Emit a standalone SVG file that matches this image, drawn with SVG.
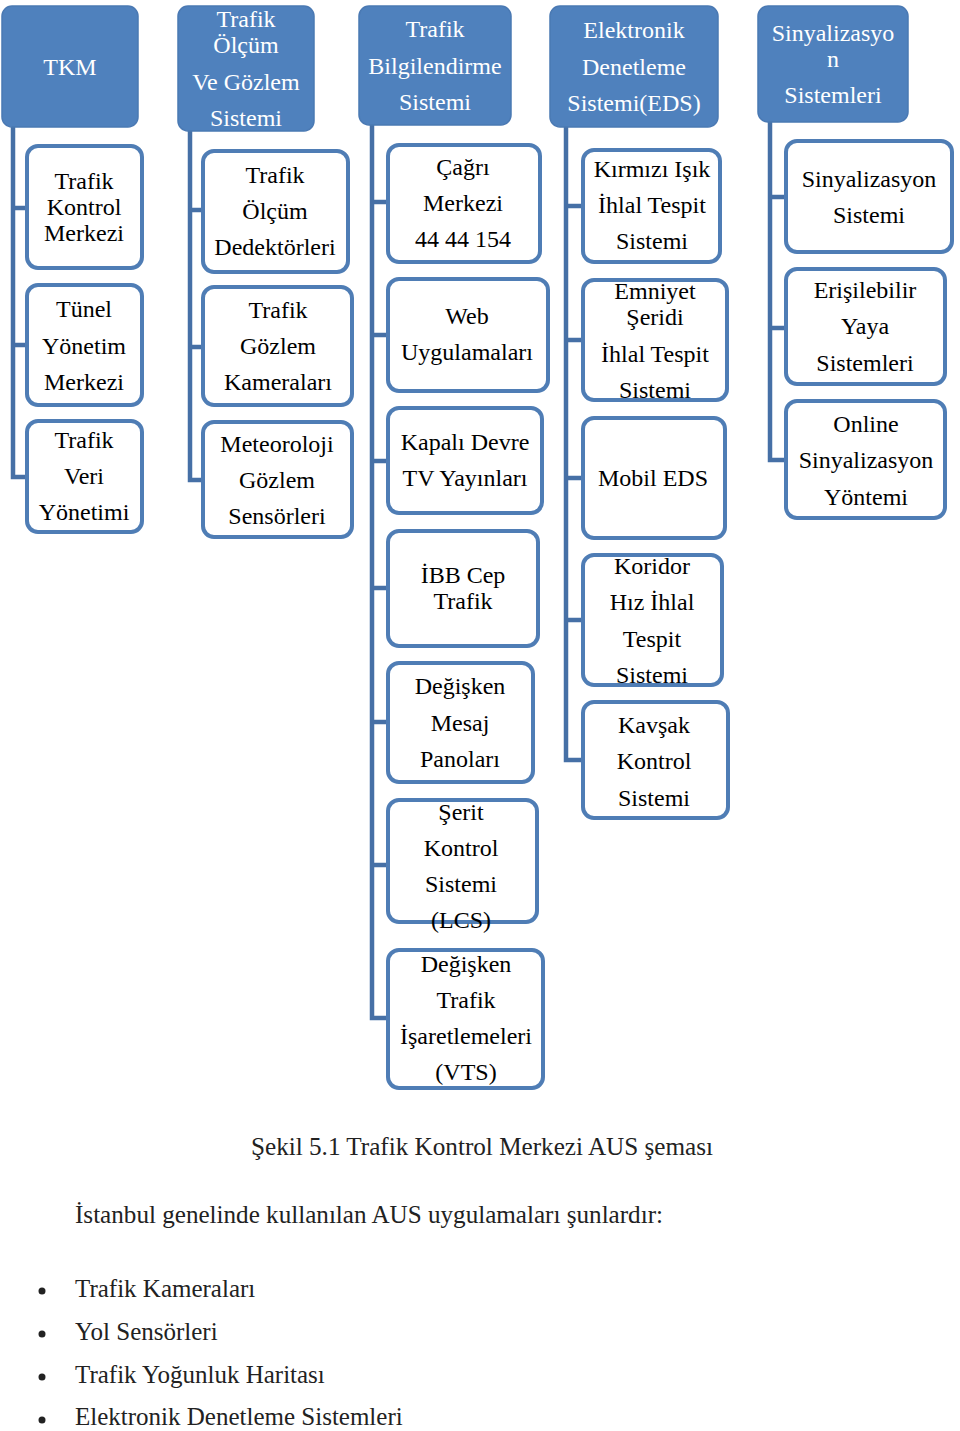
<svg xmlns="http://www.w3.org/2000/svg" width="960" height="1431" viewBox="0 0 960 1431">
<style>
.hdr{fill:#4F81BD;stroke:#4A79B3;stroke-width:1.5}
.box{fill:#FFFFFF;stroke:#4F7DB5;stroke-width:4}
.ht{font-family:"Liberation Serif",serif;font-size:24px;fill:#FFFFFF;text-anchor:middle}
.bt{font-family:"Liberation Serif",serif;font-size:24px;fill:#000000;text-anchor:middle}
.con{fill:none;stroke:#4670A6;stroke-width:4.5}
.txt{font-family:"Liberation Serif",serif;font-size:25px;fill:#222222}
</style>
<rect width="960" height="1431" fill="#FFFFFF"/>
<g id="connectors">
<path class="con" d="M13,127 V477 H27 M13,208 H27 M13,345 H27"/>
<path class="con" d="M190,131 V480 H202 M190,210 H202 M190,347 H202"/>
<path class="con" d="M372,125 V1018 H387 M372,202 H387 M372,335 H387 M372,461 H387 M372,588 H387 M372,722 H387 M372,865 H387"/>
<path class="con" d="M566,127 V760 H582 M566,206 H582 M566,340 H582 M566,478 H582 M566,620 H582"/>
<path class="con" d="M770,122 V460 H785 M770,197 H785 M770,328 H785"/>
</g>
<g id="h1"><rect class="hdr" x="2" y="6" width="136" height="121" rx="10"/><text class="ht" x="70" y="75">TKM</text></g>
<g id="h2"><rect class="hdr" x="178" y="6" width="136" height="125" rx="10"/><text class="ht"><tspan x="246" y="27">Trafik</tspan><tspan x="246" y="53">Ölçüm</tspan><tspan x="246" y="90">Ve Gözlem</tspan><tspan x="246" y="126">Sistemi</tspan></text></g>
<g id="h3"><rect class="hdr" x="359" y="6" width="152" height="119" rx="10"/><text class="ht"><tspan x="435" y="37">Trafik</tspan><tspan x="435" y="74">Bilgilendirme</tspan><tspan x="435" y="110">Sistemi</tspan></text></g>
<g id="h4"><rect class="hdr" x="550" y="6" width="168" height="121" rx="10"/><text class="ht"><tspan x="634" y="38">Elektronik</tspan><tspan x="634" y="75">Denetleme</tspan><tspan x="634" y="111">Sistemi(EDS)</tspan></text></g>
<g id="h5"><rect class="hdr" x="758" y="6" width="150" height="116" rx="10"/><text class="ht"><tspan x="833" y="41">Sinyalizasyo</tspan><tspan x="833" y="67">n</tspan><tspan x="833" y="103">Sistemleri</tspan></text></g>

<g id="c1a"><rect class="box" x="27" y="146" width="115" height="122" rx="11"/><text class="bt"><tspan x="84" y="189">Trafik</tspan><tspan x="84" y="215">Kontrol</tspan><tspan x="84" y="241">Merkezi</tspan></text></g>
<g id="c1b"><rect class="box" x="27" y="285" width="115" height="120" rx="11"/><text class="bt"><tspan x="84" y="317">Tünel</tspan><tspan x="84" y="354">Yönetim</tspan><tspan x="84" y="390">Merkezi</tspan></text></g>
<g id="c1c"><rect class="box" x="27" y="421" width="115" height="111" rx="11"/><text class="bt"><tspan x="84" y="448">Trafik</tspan><tspan x="84" y="484">Veri</tspan><tspan x="84" y="520">Yönetimi</tspan></text></g>

<g id="c2a"><rect class="box" x="203" y="151" width="145" height="121" rx="11"/><text class="bt"><tspan x="275" y="183">Trafik</tspan><tspan x="275" y="219">Ölçüm</tspan><tspan x="275" y="255">Dedektörleri</tspan></text></g>
<g id="c2b"><rect class="box" x="203" y="287" width="149" height="118" rx="11"/><text class="bt"><tspan x="278" y="318">Trafik</tspan><tspan x="278" y="354">Gözlem</tspan><tspan x="278" y="390">Kameraları</tspan></text></g>
<g id="c2c"><rect class="box" x="203" y="422" width="149" height="115" rx="11"/><text class="bt"><tspan x="277" y="452">Meteoroloji</tspan><tspan x="277" y="488">Gözlem</tspan><tspan x="277" y="524">Sensörleri</tspan></text></g>

<g id="c3a"><rect class="box" x="388" y="145" width="152" height="117" rx="11"/><text class="bt"><tspan x="463" y="175">Çağrı</tspan><tspan x="463" y="211">Merkezi</tspan><tspan x="463" y="247">44 44 154</tspan></text></g>
<g id="c3b"><rect class="box" x="388" y="279" width="160" height="112" rx="11"/><text class="bt"><tspan x="467" y="324">Web</tspan><tspan x="467" y="360">Uygulamaları</tspan></text></g>
<g id="c3c"><rect class="box" x="388" y="408" width="154" height="105" rx="11"/><text class="bt"><tspan x="465" y="450">Kapalı Devre</tspan><tspan x="465" y="486">TV Yayınları</tspan></text></g>
<g id="c3d"><rect class="box" x="388" y="531" width="150" height="115" rx="11"/><text class="bt"><tspan x="463" y="583">İBB Cep</tspan><tspan x="463" y="609">Trafik</tspan></text></g>
<g id="c3e"><rect class="box" x="388" y="663" width="145" height="119" rx="11"/><text class="bt"><tspan x="460" y="694">Değişken</tspan><tspan x="460" y="731">Mesaj</tspan><tspan x="460" y="767">Panoları</tspan></text></g>
<g id="c3f"><rect class="box" x="388" y="800" width="149" height="122" rx="11"/><text class="bt"><tspan x="461" y="820">Şerit</tspan><tspan x="461" y="856">Kontrol</tspan><tspan x="461" y="892">Sistemi</tspan><tspan x="461" y="928">(LCS)</tspan></text></g>
<g id="c3g"><rect class="box" x="388" y="950" width="155" height="138" rx="11"/><text class="bt"><tspan x="466" y="972">Değişken</tspan><tspan x="466" y="1008">Trafik</tspan><tspan x="466" y="1044">İşaretlemeleri</tspan><tspan x="466" y="1080">(VTS)</tspan></text></g>

<g id="c4a"><rect class="box" x="583" y="150" width="137" height="112" rx="11"/><text class="bt"><tspan x="652" y="177">Kırmızı Işık</tspan><tspan x="652" y="213">İhlal Tespit</tspan><tspan x="652" y="249">Sistemi</tspan></text></g>
<g id="c4b"><rect class="box" x="583" y="280" width="144" height="120" rx="11"/><text class="bt"><tspan x="655" y="299">Emniyet</tspan><tspan x="655" y="325">Şeridi</tspan><tspan x="655" y="362">İhlal Tespit</tspan><tspan x="655" y="398">Sistemi</tspan></text></g>
<g id="c4c"><rect class="box" x="583" y="418" width="142" height="120" rx="11"/><text class="bt" x="653" y="486">Mobil EDS</text></g>
<g id="c4d"><rect class="box" x="583" y="555" width="139" height="130" rx="11"/><text class="bt"><tspan x="652" y="574">Koridor</tspan><tspan x="652" y="610">Hız İhlal</tspan><tspan x="652" y="647">Tespit</tspan><tspan x="652" y="683">Sistemi</tspan></text></g>
<g id="c4e"><rect class="box" x="583" y="702" width="145" height="116" rx="11"/><text class="bt"><tspan x="654" y="733">Kavşak</tspan><tspan x="654" y="769">Kontrol</tspan><tspan x="654" y="806">Sistemi</tspan></text></g>

<g id="c5a"><rect class="box" x="786" y="141" width="166" height="111" rx="11"/><text class="bt"><tspan x="869" y="187">Sinyalizasyon</tspan><tspan x="869" y="223">Sistemi</tspan></text></g>
<g id="c5b"><rect class="box" x="786" y="269" width="159" height="115" rx="11"/><text class="bt"><tspan x="865" y="298">Erişilebilir</tspan><tspan x="865" y="334">Yaya</tspan><tspan x="865" y="371">Sistemleri</tspan></text></g>
<g id="c5c"><rect class="box" x="786" y="401" width="159" height="117" rx="11"/><text class="bt"><tspan x="866" y="432">Online</tspan><tspan x="866" y="468">Sinyalizasyon</tspan><tspan x="866" y="505">Yöntemi</tspan></text></g>

<text class="txt" x="251" y="1155" textLength="462" lengthAdjust="spacingAndGlyphs">Şekil 5.1 Trafik Kontrol Merkezi AUS şeması</text>
<text class="txt" x="75" y="1223" textLength="588" lengthAdjust="spacingAndGlyphs">İstanbul genelinde kullanılan AUS uygulamaları şunlardır:</text>
<g fill="#222222"><circle cx="42" cy="1291" r="3.5"/><circle cx="42" cy="1334" r="3.5"/><circle cx="42" cy="1377" r="3.5"/><circle cx="42" cy="1420" r="3.5"/></g>
<text class="txt" x="75" y="1297">Trafik Kameraları</text>
<text class="txt" x="75" y="1340">Yol Sensörleri</text>
<text class="txt" x="75" y="1383">Trafik Yoğunluk Haritası</text>
<text class="txt" x="75" y="1425">Elektronik Denetleme Sistemleri</text>
</svg>
